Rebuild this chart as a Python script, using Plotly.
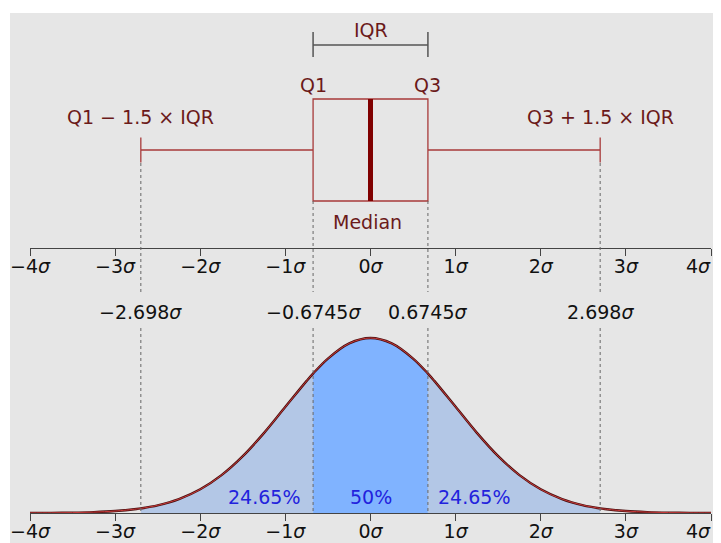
import plotly.graph_objects as go

# ---------------- data ----------------
# box-plot statistics of the standard normal distribution (in sigma units)
q1 = -0.6745
median = 0.0
q3 = 0.6745
lower_fence = -2.698
upper_fence = 2.698

# density of the normal curve, read at sample positions (sigma units)
pdf_x = [-4.0, -3.75, -3.5, -3.25, -3.0, -2.75, -2.698, -2.5, -2.25, -2.0, -1.75,
         -1.5, -1.25, -1.0, -0.75, -0.6745, -0.5, -0.25, 0.0, 0.25, 0.5, 0.6745,
         0.75, 1.0, 1.25, 1.5, 1.75, 2.0, 2.25, 2.5, 2.698, 2.75, 3.0, 3.25,
         3.5, 3.75, 4.0]
pdf_y = [0.000134, 0.000353, 0.000873, 0.002029, 0.004432, 0.009094, 0.010476,
         0.017528, 0.031740, 0.053991, 0.086277, 0.129518, 0.182649, 0.241971,
         0.301137, 0.317780, 0.352065, 0.386668, 0.398942, 0.386668, 0.352065,
         0.317780, 0.301137, 0.241971, 0.182649, 0.129518, 0.086277, 0.053991,
         0.031740, 0.017528, 0.010476, 0.009094, 0.004432, 0.002029, 0.000873,
         0.000353, 0.000134]

tick_vals = [-4, -3, -2, -1, 0, 1, 2, 3, 4]
tick_text = ["\u22124<i>\u03c3</i>", "\u22123<i>\u03c3</i>", "\u22122<i>\u03c3</i>",
             "\u22121<i>\u03c3</i>", "0<i>\u03c3</i>", "1<i>\u03c3</i>",
             "2<i>\u03c3</i>", "3<i>\u03c3</i>", "4<i>\u03c3</i>"]

sigma_labels = ["\u22122.698<i>\u03c3</i>", "\u22120.6745<i>\u03c3</i>",
                "0.6745<i>\u03c3</i>", "2.698<i>\u03c3</i>"]
pct_labels = ["24.65%", "50%", "24.65%"]
pct_x = [-1.25, 0.0, 1.22]

# ---------------- styling ----------------
BG = "#e6e6e6"
FONT = "DejaVu Sans"
FS = 19
DARKRED_TXT = "#6b1a1a"
BOX_COL = "#a83a3a"
AX_COL = "#444444"

fig = go.Figure()

def seg(lo, hi):
    xs, ys = [], []
    for x, y in zip(pdf_x, pdf_y):
        if lo - 1e-9 <= x <= hi + 1e-9:
            xs.append(x)
            ys.append(y)
    return xs, ys

# fills under the curve
for lo, hi, col in [(lower_fence, q1, "#b3c7e6"), (q1, q3, "#80b3ff"), (q3, upper_fence, "#b3c7e6")]:
    xs, ys = seg(lo, hi)
    fig.add_trace(go.Scatter(x=xs, y=ys, mode="lines", fill="tozeroy", fillcolor=col,
                             line=dict(width=0, shape="spline", smoothing=1.0, color=col),
                             xaxis="x", yaxis="y", hoverinfo="skip", showlegend=False))

# curve
fig.add_trace(go.Scatter(x=pdf_x, y=pdf_y, mode="lines",
                         line=dict(color="#4a1010", width=2.4, shape="spline", smoothing=1.0),
                         xaxis="x", yaxis="y", hoverinfo="skip", showlegend=False))
fig.add_trace(go.Scatter(x=pdf_x, y=pdf_y, mode="lines",
                         line=dict(color="#c83a3a", width=1.0, shape="spline", smoothing=1.0),
                         xaxis="x", yaxis="y", hoverinfo="skip", showlegend=False))

# box plot (top panel; y2 units = pixels above the top axis)
BOX_Y = 98
BOX_W = 102
fig.add_trace(go.Box(orientation="h", y=[BOX_Y], q1=[q1], median=[median], q3=[q3],
                     lowerfence=[lower_fence], upperfence=[upper_fence],
                     width=BOX_W, whiskerwidth=0.245, boxpoints=False,
                     line=dict(color=BOX_COL, width=1.3), fillcolor="rgba(0,0,0,0)",
                     xaxis="x2", yaxis="y2", hoverinfo="skip", showlegend=False))
# thick median line
fig.add_trace(go.Scatter(x=[median, median], y=[BOX_Y - BOX_W / 2, BOX_Y + BOX_W / 2],
                         mode="lines", line=dict(color="#800000", width=5),
                         xaxis="x2", yaxis="y2", hoverinfo="skip", showlegend=False))
# IQR bracket
fig.add_trace(go.Scatter(x=[q1, q1, None, q1, q3, None, q3, q3],
                         y=[191, 216, None, 203, 203, None, 191, 216],
                         mode="lines", line=dict(color="#555555", width=1.5),
                         xaxis="x2", yaxis="y2", hoverinfo="skip", showlegend=False))

# ---------------- layout ----------------
# last tick label ("4σ") is placed as an annotation so it stays inside the page
axis_ticktext = tick_text[:-1] + [""]
axis_common = dict(range=[-4, 4], tickvals=tick_vals, ticktext=axis_ticktext, ticks="outside",
                   ticklen=7, tickwidth=1.3, tickcolor=AX_COL, showline=True,
                   linecolor=AX_COL, linewidth=1.3, showgrid=False, zeroline=False,
                   tickfont=dict(family=FONT, size=FS, color="#111111"), fixedrange=True,
                   automargin=False, ticklabeloverflow="allow", ticklabelstandoff=-6)

# page has an 8 px body margin: figure is sized to fit the 721x543 window
fig.update_layout(
    width=713, height=535,
    margin=dict(l=22, r=10, t=5, b=30),
    paper_bgcolor=BG, plot_bgcolor=BG,
    showlegend=False,
    xaxis=dict(domain=[0, 1], anchor="y", **axis_common),
    yaxis=dict(domain=[0, 0.45], range=[0, 0.5129], visible=False, fixedrange=True),
    xaxis2=dict(domain=[0, 1], anchor="y2", **axis_common),
    yaxis2=dict(domain=[0.53, 1], range=[0, 235], visible=False, fixedrange=True),
)

# dotted guide lines
shapes = []
for xv, ytop in [(lower_fence, 0.70), (q1, 0.624), (q3, 0.624), (upper_fence, 0.70)]:
    shapes.append(dict(type="line", xref="x", yref="paper", x0=xv, x1=xv, y0=ytop, y1=0.442,
                       line=dict(color="#666666", width=1, dash="dot")))
    shapes.append(dict(type="line", xref="x", yref="paper", x0=xv, x1=xv, y0=0.37, y1=0,
                       line=dict(color="#666666", width=1, dash="dot")))
# white border strips (top / left)
shapes.append(dict(type="rect", xref="paper", yref="paper", x0=-0.04, x1=-0.0294,
                   y0=-0.07, y1=1.02, fillcolor="white", line=dict(width=0), layer="above"))
shapes.append(dict(type="rect", xref="paper", yref="paper", x0=-0.04, x1=1.02,
                   y0=1.0, y1=1.02, fillcolor="white", line=dict(width=0), layer="above"))
fig.update_layout(shapes=shapes)

ann = []
def A(text, x, y, xref, yref, color, size=FS, xanchor="center"):
    ann.append(dict(text=text, x=x, y=y, xref=xref, yref=yref, showarrow=False,
                    xanchor=xanchor, yanchor="middle",
                    font=dict(family=FONT, size=size, color=color)))

A("IQR", (q1 + q3) / 2, 218, "x2", "y2", DARKRED_TXT)
A("Q1", q1, 163, "x2", "y2", DARKRED_TXT)
A("Q3", q3, 163, "x2", "y2", DARKRED_TXT)
A("Q1 \u2212 1.5 \u00d7 IQR", lower_fence, 131, "x2", "y2", DARKRED_TXT)
A("Q3 + 1.5 \u00d7 IQR", upper_fence, 131, "x2", "y2", DARKRED_TXT)
A("Median", median - 0.04, 26, "x2", "y2", DARKRED_TXT)
for lbl, xv in zip(sigma_labels, [lower_fence, q1, q3, upper_fence]):
    A(lbl, xv, 0.402, "x", "paper", "#111111")
for lbl, xv in zip(pct_labels, pct_x):
    A(lbl, xv, 0.0365, "x", "y", "#2222dd")
# "4σ" end labels for both axes
A(tick_text[-1], 1.003, 0.494, "paper", "paper", "#111111", xanchor="right")
A(tick_text[-1], 1.003, -0.036, "paper", "paper", "#111111", xanchor="right")
fig.update_layout(annotations=ann)

fig.write_html("out.html")
